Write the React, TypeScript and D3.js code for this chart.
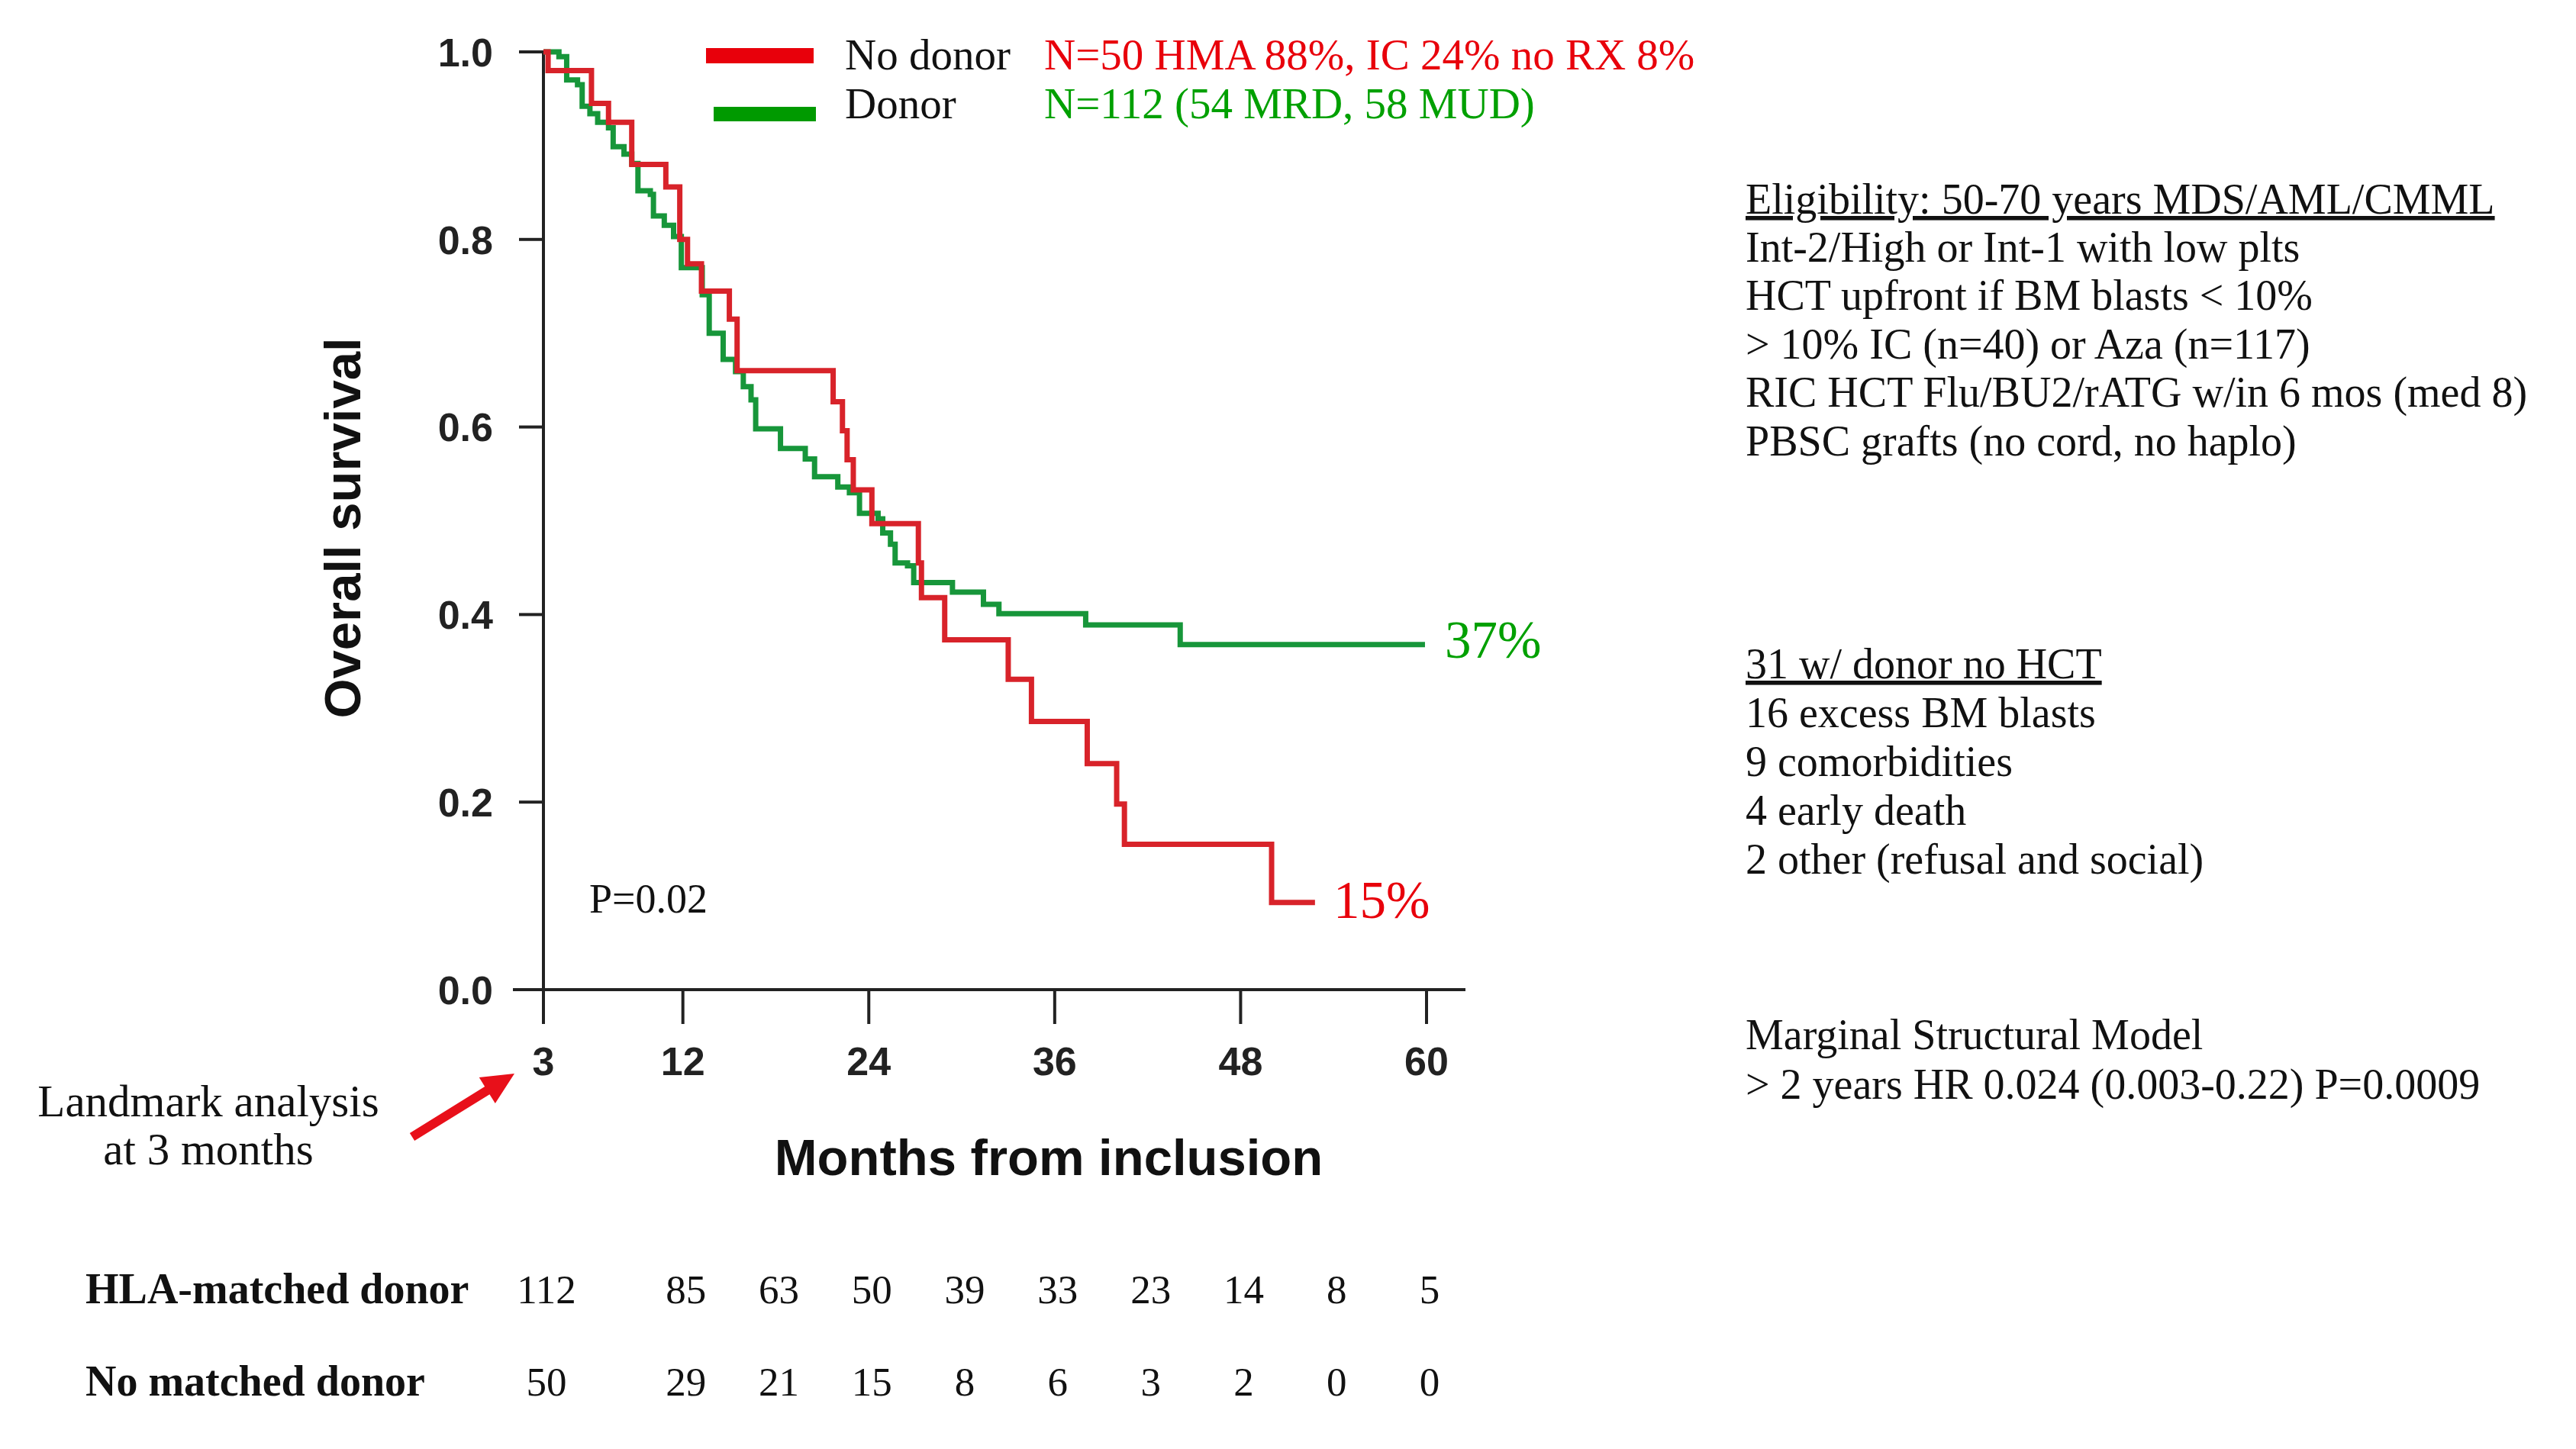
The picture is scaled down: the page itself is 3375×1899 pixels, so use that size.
import React from 'react';
import * as d3 from 'd3';

// Kaplan-Meier steps (months, survival after the drop)
const donorTimes = [3, 4.0, 4.5, 5.2, 5.5, 6.0, 6.5, 7.2, 7.5, 8.2, 8.7, 9.1, 9.9, 10.1, 10.8, 11.4, 11.9, 13.25, 13.7, 14.6, 15.4, 15.9, 16.4, 16.7, 18.3, 19.9, 20.5, 22.0, 22.75, 23.4, 24.6, 24.9, 25.4, 25.7, 26.5, 26.9, 29.4, 31.4, 32.4, 38.0, 44.1, 59.9];
const donorSurv = [1.0, 0.995, 0.97, 0.965, 0.942, 0.934, 0.925, 0.919, 0.899, 0.891, 0.881, 0.852, 0.848, 0.825, 0.815, 0.803, 0.77, 0.741, 0.7, 0.672, 0.659, 0.643, 0.629, 0.598, 0.577, 0.566, 0.547, 0.536, 0.53, 0.508, 0.502, 0.487, 0.475, 0.455, 0.452, 0.434, 0.424, 0.411, 0.401, 0.389, 0.368, 0.368];

const noDonorTimes = [3, 3.3, 6.1, 7.2, 8.7, 10.9, 11.8, 12.3, 13.2, 15.0, 15.5, 21.7, 22.3, 22.6, 23.0, 24.2, 27.2, 27.4, 28.9, 33.0, 34.5, 38.1, 40.0, 40.5, 50.0, 52.8];
const noDonorSurv = [1.0, 0.98, 0.945, 0.925, 0.88, 0.856, 0.8, 0.774, 0.745, 0.715, 0.66, 0.627, 0.596, 0.565, 0.533, 0.497, 0.455, 0.418, 0.373, 0.331, 0.286, 0.241, 0.198, 0.155, 0.093, 0.093];

const xTicks = [3, 12, 24, 36, 48, 60];
const yTicks = [0, 0.2, 0.4, 0.6, 0.8, 1.0];

const riskMonths = [3, 12, 18, 24, 30, 36, 42, 48, 54, 60];
const riskDonor = [112, 85, 63, 50, 39, 33, 23, 14, 8, 5];
const riskNoDonor = [50, 29, 21, 15, 8, 6, 3, 2, 0, 0];

const eligibilityLines = [
  'Int-2/High or Int-1 with low plts',
  'HCT upfront if BM blasts  < 10%',
  '> 10% IC (n=40) or Aza (n=117)',
  'RIC HCT Flu/BU2/rATG w/in 6 mos (med 8)',
  'PBSC grafts (no cord, no haplo)',
];
const noHctLines = [
  '16 excess BM blasts',
  '9 comorbidities',
  '4 early death',
  '2 other (refusal and social)',
];

const RED_LINE = '#d8232a';
const GREEN_LINE = '#17963a';
const RED_TEXT = '#e8000b';
const GREEN_TEXT = '#00a000';
const SERIF = '"Liberation Serif", "Times New Roman", serif';
const SANS = '"Liberation Sans", Arial, sans-serif';

const W = 3375, H = 1899;

const App: React.FC = () => {
  const x = d3.scaleLinear().domain([3, 60]).range([712, 1869]);
  const y = d3.scaleLinear().domain([0, 1]).range([1297, 68]);

  const line = d3.line<[number, number]>()
    .x(d => x(d[0]))
    .y(d => y(d[1]))
    .curve(d3.curveStepAfter);

  const donorPts = donorTimes.map((t, i) => [t, donorSurv[i]] as [number, number]);
  const noDonorPts = noDonorTimes.map((t, i) => [t, noDonorSurv[i]] as [number, number]);

  // red annotation arrow
  const ax0 = 540, ay0 = 1490, ax1 = 674, ay1 = 1407;
  const len = Math.hypot(ax1 - ax0, ay1 - ay0);
  const ux = (ax1 - ax0) / len, uy = (ay1 - ay0) / len;
  const px = -uy, py = ux;
  const bw = 6, hw = 20, hl = 42;
  const bx = ax1 - ux * hl, by = ay1 - uy * hl;
  const arrow = [
    [ax0 + px * bw, ay0 + py * bw],
    [bx + px * bw, by + py * bw],
    [bx + px * hw, by + py * hw],
    [ax1, ay1],
    [bx - px * hw, by - py * hw],
    [bx - px * bw, by - py * bw],
    [ax0 - px * bw, ay0 - py * bw],
  ].map(p => p.join(',')).join(' ');

  return (
    <svg width={W} height={H} viewBox={`0 0 ${W} ${H}`}
      style={{ position: 'absolute', left: 0, top: 0, background: '#fff' }}>
      <rect width={W} height={H} fill="#fff" />

      {/* axes */}
      <g stroke="#222" strokeWidth={4}>
        <line x1={x(3)} x2={x(3)} y1={y(1) - 2} y2={y(0) + 45} />
        <line x1={x(3) - 40} x2={1920} y1={y(0)} y2={y(0)} />
        {yTicks.map(t => (
          <line key={t} x1={x(3) - 32} x2={x(3)} y1={y(t)} y2={y(t)} />
        ))}
        {xTicks.map(t => (
          <line key={t} x1={x(t)} x2={x(t)} y1={y(0)} y2={y(0) + 45} />
        ))}
      </g>
      <g fontFamily={SANS} fontWeight="bold" fontSize={52} fill="#222">
        {yTicks.map(t => (
          <text key={t} x={646} y={y(t)} dy="0.36em" textAnchor="end">{t.toFixed(1)}</text>
        ))}
        {xTicks.map(t => (
          <text key={t} x={x(t)} y={1409} textAnchor="middle">{t}</text>
        ))}
      </g>
      <text x={1374} y={1540} textAnchor="middle" fontFamily={SANS} fontWeight="bold" fontSize={67} fill="#111">
        Months from inclusion
      </text>
      <text transform="translate(472,692) rotate(-90)" textAnchor="middle" fontFamily={SANS} fontWeight="bold" fontSize={67} fill="#111">
        Overall survival
      </text>

      {/* curves */}
      <path d={line(donorPts) ?? ''} fill="none" stroke={GREEN_LINE} strokeWidth={7} />
      <path d={line(noDonorPts) ?? ''} fill="none" stroke={RED_LINE} strokeWidth={7} />

      <text x={1893} y={862} fontFamily={SERIF} fontSize={69} fill={GREEN_TEXT}>37%</text>
      <text x={1747} y={1203} fontFamily={SERIF} fontSize={69} fill={RED_TEXT}>15%</text>
      <text x={772} y={1196} fontFamily={SERIF} fontSize={54} fill="#111">P=0.02</text>

      {/* legend */}
      <rect x={925} y={63} width={141} height={20} fill={RED_TEXT} />
      <rect x={935} y={140} width={134} height={19} fill="#009a00" />
      <g fontFamily={SERIF} fontSize={57}>
        <text x={1107} y={91} fill="#111">No donor</text>
        <text x={1107} y={155} fill="#111">Donor</text>
        <text x={1368} y={91} fill={RED_TEXT}>N=50 HMA 88%, IC 24% no RX 8%</text>
        <text x={1368} y={155} fill={GREEN_TEXT}>N=112 (54 MRD, 58 MUD)</text>
      </g>

      {/* landmark note */}
      <g fontFamily={SERIF} fontSize={59} fill="#111" textAnchor="middle">
        <text x={273} y={1463}>Landmark analysis</text>
        <text x={273} y={1526}>at 3 months</text>
      </g>
      <polygon points={arrow} fill="#e8101a" />

      {/* right side notes */}
      <g fontFamily={SERIF} fontSize={56} fill="#111">
        <text x={2287} y={280} textDecoration="underline">Eligibility: 50-70 years MDS/AML/CMML</text>
        {eligibilityLines.map((s, i) => (
          <text key={s} x={2287} y={343 + i * 63.4}>{s}</text>
        ))}
        <text x={2287} y={889} textDecoration="underline">31 w/ donor no HCT</text>
        {noHctLines.map((s, i) => (
          <text key={s} x={2287} y={953 + i * 64}>{s}</text>
        ))}
        <text x={2287} y={1375}>Marginal Structural Model</text>
        <text x={2287} y={1440}>{'> 2 years HR 0.024 (0.003-0.22) P=0.0009'}</text>
      </g>

      {/* number at risk */}
      <g fontFamily={SERIF} fill="#111">
        <text x={112} y={1708} fontSize={56} fontWeight="bold">HLA-matched donor</text>
        <text x={112} y={1829} fontSize={56} fontWeight="bold">No matched donor</text>
        {riskMonths.map((m, i) => (
          <text key={'d' + m} x={x(m) + 4} y={1708} fontSize={53} textAnchor="middle">{riskDonor[i]}</text>
        ))}
        {riskMonths.map((m, i) => (
          <text key={'n' + m} x={x(m) + 4} y={1829} fontSize={53} textAnchor="middle">{riskNoDonor[i]}</text>
        ))}
      </g>
    </svg>
  );
};

export default App;
